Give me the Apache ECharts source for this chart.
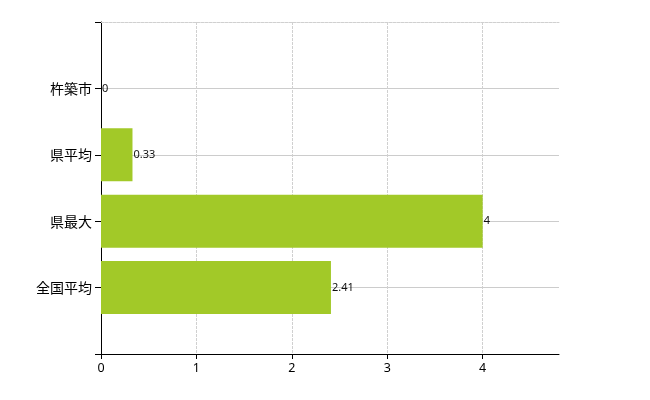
<!DOCTYPE html>
<html><head><meta charset="utf-8">
<script src="https://cdn.jsdelivr.net/npm/echarts@6/dist/echarts.min.js"></script>
<style>html,body{margin:0;padding:0;background:#fff}#c{width:650px;height:400px}</style>
</head><body><div id="c"></div>
<script>
const categories = ['', '杵築市', '県平均', '県最大', '全国平均', ''];
const values = [null, 0, 0.33, 4, 2.41, null];
const xTicks = [0, 1, 2, 3, 4];

const chart = echarts.init(document.getElementById('c'), null, {renderer: 'canvas'});
chart.setOption({
  animation: false,
  grid: {left: 101, top: 22, right: 91, bottom: 46, containLabel: false},
  xAxis: [{
    type: 'value', min: 0, max: 4.8, interval: 1, position: 'bottom',
    axisLine: {show: true, lineStyle: {color: '#000', width: 1}},
    axisTick: {show: true, length: 5, lineStyle: {color: '#000'}, customValues: xTicks},
    axisLabel: {color: '#000', fontSize: 12.5, fontFamily: 'Noto Sans, sans-serif', margin: 8, customValues: xTicks},
    splitLine: {show: true, lineStyle: {color: '#d0d0d0', type: [3, 1]}}
  }, {
    type: 'value', min: 0, max: 4.8, position: 'top',
    axisLine: {show: true, lineStyle: {color: '#d0d0d0', type: [3, 1]}},
    axisTick: {show: false}, axisLabel: {show: false}, splitLine: {show: false}
  }],
  yAxis: {
    type: 'category', data: categories, inverse: true, boundaryGap: false,
    axisLine: {show: true, lineStyle: {color: '#000'}},
    axisTick: {show: true, length: 6, lineStyle: {color: '#000'}, alignWithLabel: true},
    axisLabel: {color: '#000', fontSize: 14, fontFamily: 'Noto Sans CJK JP', margin: 9},
    splitLine: {show: true, lineStyle: {color: '#cccccc'}, interval: function (i) { return i > 0; }}
  },
  series: [{
    type: 'bar', data: values, barWidth: 53, xAxisIndex: 0,
    itemStyle: {color: '#a2c928'},
    label: {show: true, position: 'right', distance: 1, color: '#111', fontSize: 11, fontFamily: 'Noto Sans, sans-serif'}
  }]
});
</script></body></html>
